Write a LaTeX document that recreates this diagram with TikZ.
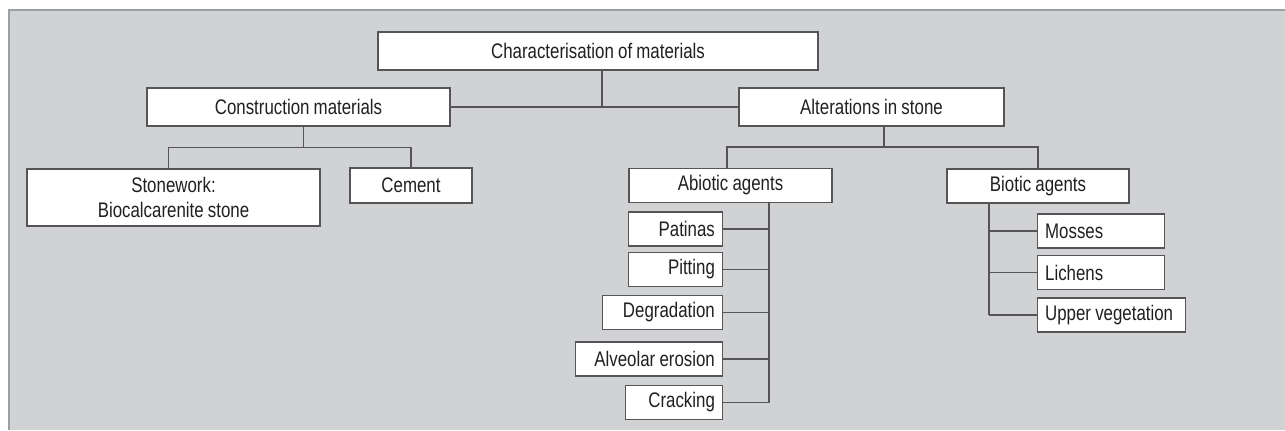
\documentclass[tikz,border=0pt]{standalone}
\usepackage{fontspec}
\setmainfont[FakeStretch=0.8, WordSpace=0.9]{Liberation Sans}
\usepackage{tikz}
\pgfdeclarelayer{bg}
\pgfsetlayers{bg,main}
\definecolor{panelgray}{HTML}{D1D2D4}
\definecolor{rulegray}{HTML}{9E9FA1}
\definecolor{boxline}{HTML}{555557}
\definecolor{inkgray}{HTML}{231F20}
\tikzset{
    every node/.style={rectangle, draw=boxline, line width=0.7pt, fill=white, text=inkgray, font=\fontsize{12}{14.5}\selectfont, inner sep=0mm},
    box/.style={minimum height=0.76cm},
    sub/.style={minimum height=0.68cm},
    leafl/.style={minimum height=0.68cm, anchor=east, inner xsep=0.15cm, align=flush right},
    leafr/.style={minimum height=0.68cm, anchor=west, inner xsep=0.15cm, align=flush left},
    wire/.style={draw=boxline, line width=0.7pt}
}

\begin{document}
\begin{tikzpicture}
    \useasboundingbox (0cm, 0cm) rectangle (25.7cm, -8.6cm);

    \node (char) [box, minimum width=8.8cm] at (11.96cm, -1.02cm) {Characterisation of materials};
    \node (cons) [box, minimum width=6.06cm] at (5.97cm, -2.14cm) {Construction materials};
    \node (alt) [box, minimum width=5.3cm] at (17.43cm, -2.14cm) {Alterations in stone};

    \node (stone) [minimum width=5.86cm, minimum height=1.14cm, align=center] at (3.47cm, -3.95cm) {Stonework:\\Biocalcarenite stone};
    \node (cem) [sub, minimum width=2.44cm, minimum height=0.70cm] at (8.22cm, -3.71cm) {Cement};
    \node (abio) [sub, minimum width=4.06cm] at (14.61cm, -3.71cm) {Abiotic agents};
    \node (bio) [sub, minimum width=3.64cm] at (20.76cm, -3.72cm) {Biotic agents};

    \node (pat) [leafl, text width=1.58cm] at (14.46cm, -4.58cm) {Patinas};
    \node (pit) [leafl, text width=1.58cm] at (14.46cm, -5.39cm) {Pitting};
    \node (deg) [leafl, text width=2.10cm] at (14.46cm, -6.25cm) {Degradation};
    \node (alv) [leafl, text width=2.64cm] at (14.46cm, -7.18cm) {Alveolar erosion};
    \node (crk) [leafl, text width=1.64cm] at (14.46cm, -8.05cm) {Cracking};

    \node (mos) [leafr, text width=2.24cm] at (20.74cm, -4.62cm) {Mosses};
    \node (lic) [leafr, text width=2.24cm] at (20.74cm, -5.45cm) {Lichens};
    \node (upv) [leafr, text width=2.66cm] at (20.74cm, -6.30cm) {Upper vegetation};

    \coordinate (cbus) at (0cm, -2.95cm);
    \coordinate (abus) at (0cm, -2.94cm);
    \coordinate (aspine) at (15.38cm, -8.05cm);
    \coordinate (bspine) at (19.78cm, -6.30cm);

    \begin{pgfonlayer}{bg}
        \fill[panelgray] (0.18cm, -0.2cm) rectangle (25.7cm, -8.6cm);
        \draw[rulegray, line width=0.7pt] (0.18cm, -8.6cm) -- (0.18cm, -0.2cm) -- (25.7cm, -0.2cm);
    \end{pgfonlayer}

    \draw[wire] (cons.east) -- (alt.west);
    \draw[wire] ([xshift=0.08cm]char.south) -- ([xshift=0.08cm]char.south |- cons.east);
    \draw[wire] ([xshift=0.1cm]cons.south) -- ([xshift=0.1cm]cons.south |- cbus);
    \draw[wire] ([xshift=-0.1cm]stone.north) |- (cbus -| cem.north) -- (cem.north);
    \draw[wire] ([xshift=0.25cm]alt.south) -- ([xshift=0.25cm]alt.south |- abus);
    \draw[wire] ([xshift=-0.07cm]abio.north) |- (abus -| bio.north) -- (bio.north);
    \draw[wire] (aspine |- abio.south) -- (aspine);
    \draw[wire] (pat.east) -- (pat.east -| aspine);
    \draw[wire] (pit.east) -- (pit.east -| aspine);
    \draw[wire] (deg.east) -- (deg.east -| aspine);
    \draw[wire] (alv.east) -- (alv.east -| aspine);
    \draw[wire] (crk.east) -- (crk.east -| aspine);
    \draw[wire] (bspine |- bio.south) -- (bspine);
    \draw[wire] (mos.west) -- (mos.west -| bspine);
    \draw[wire] (lic.west) -- (lic.west -| bspine);
    \draw[wire] (upv.west) -- (upv.west -| bspine);
\end{tikzpicture}
\end{document}
